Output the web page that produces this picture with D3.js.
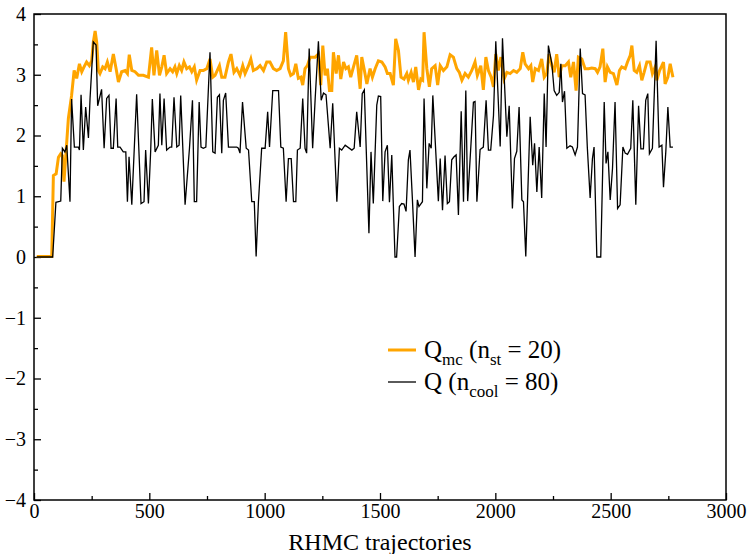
<!DOCTYPE html>
<html><head><meta charset="utf-8">
<script src="https://cdn.jsdelivr.net/npm/d3@7"></script>
<style>body{margin:0;background:#fff} svg, svg text{font-family:'Liberation Serif','DejaVu Serif','Times New Roman',serif !important}</style>
</head><body><div id="chart"></div>
<script>
// Q (n_cool = 80): trajectory, charge
const qTraj = [12,81,95,116,123,134,142,156,163,175,192,197,204,214,224,236,243,257,269,276,293,304,315,325,334,344,356,363,373,387,398,405,412,424,445,464,477,484,496,506,513,525,539,546,554,564,575,590,597,607,619,629,636,655,674,687,695,705,716,724,734,745,763,775,785,795,804,814,821,831,843,879,886,893,904,920,930,944,955,963,973,987,1002,1013,1021,1035,1060,1070,1081,1093,1103,1115,1125,1135,1142,1154,1165,1175,1182,1193,1208,1219,1233,1245,1255,1266,1284,1295,1313,1324,1334,1349,1378,1388,1399,1414,
1423,1432,1452,1461,1471,1486,1493,1503,1512,1522,1532,1541,1551,1565,1572,1584,1594,1604,1613,1623,1630,1640,1652,1662,1669,1684,1691,1703,1713,1722,1729,1753,1761,1771,1782,1792,1801,1811,1821,1830,1840,1852,1862,1872,1880,1905,1912,1920,1934,1948,1960,1970,1980,1992,2002,2021,2031,2050,2060,2074,2083,2093,2103,2115,2122,2132,2151,2162,2170,2180,2190,2201,2212,2220,2230,2245,2255,2266,2277,2284,2291,2300,2310,2324,2334,2346,2356,2368,2378,2389,2399,2411,2421,2428,2440,2457,2472,2480,2488,2498,2508,2519,2530,2541,2553,2563,2573,2587,2596,2609,2621,2631,2642,2652,2661,2668,2681,2697,2710,2722,2729,2739,2748,2758,2770];
const qVal = [0,0,0.9,0.92,1.79,1.73,1.84,0.91,2.6,1.81,1.81,1.76,2.67,1.76,2.47,1.96,2.61,3.54,3.49,2.49,2.76,1.79,2.61,2.66,1.79,1.79,2.61,1.81,1.81,1.73,1.73,0.91,1.65,0.86,2.68,0.88,0.91,1.76,0.88,1.76,2.6,1.73,1.84,2.69,1.84,2.61,1.76,1.81,1.81,2.63,1.81,1.84,2.66,0.86,1.79,2.58,0.91,0.91,2.55,1.81,1.79,1.81,3.37,1.73,1.71,2.63,2.67,1.71,2.58,2.7,1.81,1.81,1.79,1.71,2.55,1.79,1.76,0.91,0.91,0.01,0.91,1.79,1.79,2.39,1.81,2.74,2.74,1.81,1.79,0.91,1.62,1.62,0.91,0.91,1.76,1.79,2.61,1.79,1.71,3.43,1.79,2.61,3.55,2.58,2.7,2.67,1.79,2.53,0.91,1.79,1.76,1.84,1.76,1.79,2.39,1.81,
2.69,2.75,0.39,1.73,0.88,2.5,2.65,2.64,0.92,1.73,1.84,0.9,1.68,0,0,0.83,0.88,0.87,0.75,1.6,1.76,0.99,0,0.94,0.83,0.91,2.61,1.13,1.87,1.79,2.66,0.92,1.62,0.77,1.67,0.88,0.91,1.6,1.65,1.68,0.69,2.4,0.91,2.74,0.92,2.55,2.56,0.91,1.77,1.81,2.58,1.76,1.76,2.33,3.55,1.82,3.6,1.98,2.49,0.8,1.62,1.74,2.47,0.94,0.91,0.01,2.31,1.51,1.87,1.07,1.81,0.97,2.69,1.81,3.48,3.18,2.74,2.66,2.71,3.18,2.55,2.73,1.79,1.83,1.81,1.68,1.81,3.43,2.69,2.67,1.79,0.97,1.62,1.81,0,0,2.55,1.54,1.73,0.94,1.46,2.55,0.8,0.86,1.81,1.71,1.69,1.79,2.58,0.86,2.49,1.78,1.78,2.58,2.69,1.7,1.79,3.56,1.81,1.84,1.15,1.73,2.47,1.81,1.81];
// Q_mc (n_st = 20)
const qmcTraj = [12,77,84,96,106,116,123,130,139,149,163,174,185,197,207,217,228,240,250,257,265,272,279,286,298,308,318,330,344,356,366,380,395,405,413,424,438,453,474,496,510,520,532,544,554,564,575,590,601,611,619,630,640,650,662,674,684,695,705,720,734,749,763,775,785,804,814,828,843,854,867,879,893,905,915,930,940,951,966,980,995,1009,1023,1038,1052,1067,1081,1091,1103,1113,1125,1135,1146,1157,1165,1175,1185,1197,1219,1233,1243,1252,1262,1272,1281,1291,1298,1310,1320,1330,1342,1352,1363,1373,1385,1399,1414,
1421,1431,1443,1457,1467,1479,1493,1508,1522,1532,1544,1558,1568,1580,1591,1604,1616,1623,1635,1645,1655,1667,1677,1685,1691,1703,1714,1724,1739,1750,1761,1775,1790,1804,1818,1833,1844,1855,1869,1883,1898,1912,1922,1937,1948,1959,1970,1982,1992,2002,2013,2024,2038,2050,2064,2079,2093,2108,2119,2129,2144,2154,2162,2173,2187,2201,2212,2223,2233,2245,2255,2266,2277,2288,2303,2317,2327,2339,2350,2360,2375,2389,2404,2418,2433,2443,2454,2466,2476,2486,2498,2512,2527,2538,2548,2563,2573,2585,2592,2602,2613,2625,2635,2645,2657,2671,2681,2693,2700,2712,2722,2729,2736,2748,2758,2770];
const qmcVal = [0.01,0.01,1.34,1.37,1.64,1.7,1.67,1.24,1.73,2.28,2.66,3.07,2.94,3.18,3.05,3.13,3.21,3.15,3.23,3.53,3.72,3.53,3.07,3.02,3.13,3.1,3.21,3.05,3.34,3.1,2.88,3.05,3.07,3.02,3.33,3.07,3.05,2.99,2.99,2.96,3.45,2.99,3.4,2.99,3.13,3.32,3.02,3.1,3.05,3.13,3.02,3.15,3.07,3.21,3.1,3.13,3.05,3.13,2.91,3.07,3.07,3.1,3.26,2.96,2.99,3.15,2.96,2.96,3.21,3.34,3.04,3.1,2.99,3.15,3.02,3.15,3.26,3.07,3.1,3.15,3.07,3.21,3.21,3.1,3.07,3.1,3.23,3.7,3.1,2.99,3.02,3.18,2.94,2.96,2.83,3.1,3.15,3.29,3.29,3.34,2.83,3.48,2.99,3.1,2.74,2.74,3.37,3.02,3.32,2.93,3.21,3.1,3.13,2.96,3.13,3.32,2.77,
3.29,3.1,2.85,3.1,2.96,3.1,3.23,3.21,3.13,3.02,3.02,2.83,3.59,3.4,2.96,2.93,3.02,2.91,3.04,2.88,3.13,2.75,2.93,2.91,3.7,3.1,2.8,3.1,3.15,2.83,3.15,3.07,3.13,3.33,3.29,3.1,3.04,2.91,3.02,2.96,3.07,3.21,2.99,3.15,2.75,3.29,3.07,2.96,2.8,3.34,3.07,3.29,2.93,3.04,3.02,3.07,3.04,3.1,3.37,3.18,3.1,3.15,2.88,3.1,3.07,3.26,2.96,3.02,3.34,3.15,3.04,3.34,2.96,3.15,3.15,3.21,2.96,3.21,2.74,3.29,3.26,3.1,3.1,3.11,3.1,3.04,3.13,3.43,2.88,3.13,3.04,3.02,2.83,3.07,3.13,3.1,3.21,3.32,3.48,3.07,3.04,3.15,2.91,3.04,3.21,3.21,3.02,3.13,2.91,3.07,3.15,3.21,2.85,2.96,3.18,2.96];
const xTicks = [0,500,1000,1500,2000,2500,3000];
const yTicks = [-4,-3,-2,-1,0,1,2,3,4];

const W = 751, H = 554, m = {l:34, r:25, t:14, b:54};
const svg = d3.select('#chart').append('svg').attr('width', W).attr('height', H);
const x = d3.scaleLinear().domain([0,3000]).range([m.l, W - m.r]);
const y = d3.scaleLinear().domain([-4,4]).range([H - m.b, m.t]);

// ticks point inward
svg.append('g').attr('transform', `translate(0,${H - m.b})`)
	.call(d3.axisBottom(x).tickValues(xTicks).tickSize(-7).tickPadding(4).tickFormat(d3.format('d')));
svg.append('g').attr('transform', `translate(0,${H - m.b})`)
	.call(d3.axisBottom(x).tickValues(d3.range(250,3000,500)).tickSize(-4).tickFormat(''));
const ya = svg.append('g').attr('transform', `translate(${m.l},0)`)
	.call(d3.axisLeft(y).tickValues(yTicks).tickSize(-7).tickPadding(6));
svg.append('g').attr('transform', `translate(${m.l},0)`)
	.call(d3.axisLeft(y).tickValues(d3.range(-3.5,4,1)).tickSize(-4).tickFormat(''));
svg.selectAll('g').attr('font-family', null);
svg.selectAll('.domain').remove();
svg.selectAll('.tick line').attr('stroke', '#000').attr('stroke-width', 1.3);
svg.selectAll('.tick text').attr('font-size', 20).attr('fill', '#000');
ya.selectAll('.tick text').attr('dx', '-2');
svg.append('rect').attr('x', m.l).attr('y', m.t).attr('width', W - m.r - m.l).attr('height', H - m.b - m.t)
	.attr('fill', 'none').attr('stroke', '#000').attr('stroke-width', 1.5);

const line = d3.line().x(d => x(d[0])).y(d => y(d[1]));
svg.append('path').datum(qmcTraj.map((t,i) => [t, qmcVal[i]]))
	.attr('d', line).attr('fill', 'none').attr('stroke', '#ffa500').attr('stroke-width', 3);
svg.append('path').datum(qTraj.map((t,i) => [t, qVal[i]]))
	.attr('d', line).attr('fill', 'none').attr('stroke', '#000').attr('stroke-width', 1.3);

svg.append('text').attr('x', (m.l + W - m.r)/2).attr('y', 550).attr('text-anchor', 'middle')
	.attr('font-size', 24).text('RHMC trajectories');

// legend
const lg = svg.append('g');
lg.append('line').attr('x1', 388).attr('x2', 416).attr('y1', 350).attr('y2', 350).attr('stroke', '#ffa500').attr('stroke-width', 3);
lg.append('line').attr('x1', 388).attr('x2', 416).attr('y1', 382).attr('y2', 382).attr('stroke', '#000').attr('stroke-width', 1.3);
const t1 = lg.append('text').attr('x', 424).attr('y', 358).attr('font-size', 25);
t1.append('tspan').text('Q');
t1.append('tspan').attr('font-size', 17).attr('dy', 7).text('mc');
t1.append('tspan').attr('dy', -7).text(' (n');
t1.append('tspan').attr('font-size', 17).attr('dy', 7).text('st');
t1.append('tspan').attr('dy', -7).text(' = 20)');
const t2 = lg.append('text').attr('x', 424).attr('y', 390).attr('font-size', 25);
t2.append('tspan').text('Q  (n');
t2.append('tspan').attr('font-size', 17).attr('dy', 7).text('cool');
t2.append('tspan').attr('dy', -7).text(' = 80)');
</script></body></html>
